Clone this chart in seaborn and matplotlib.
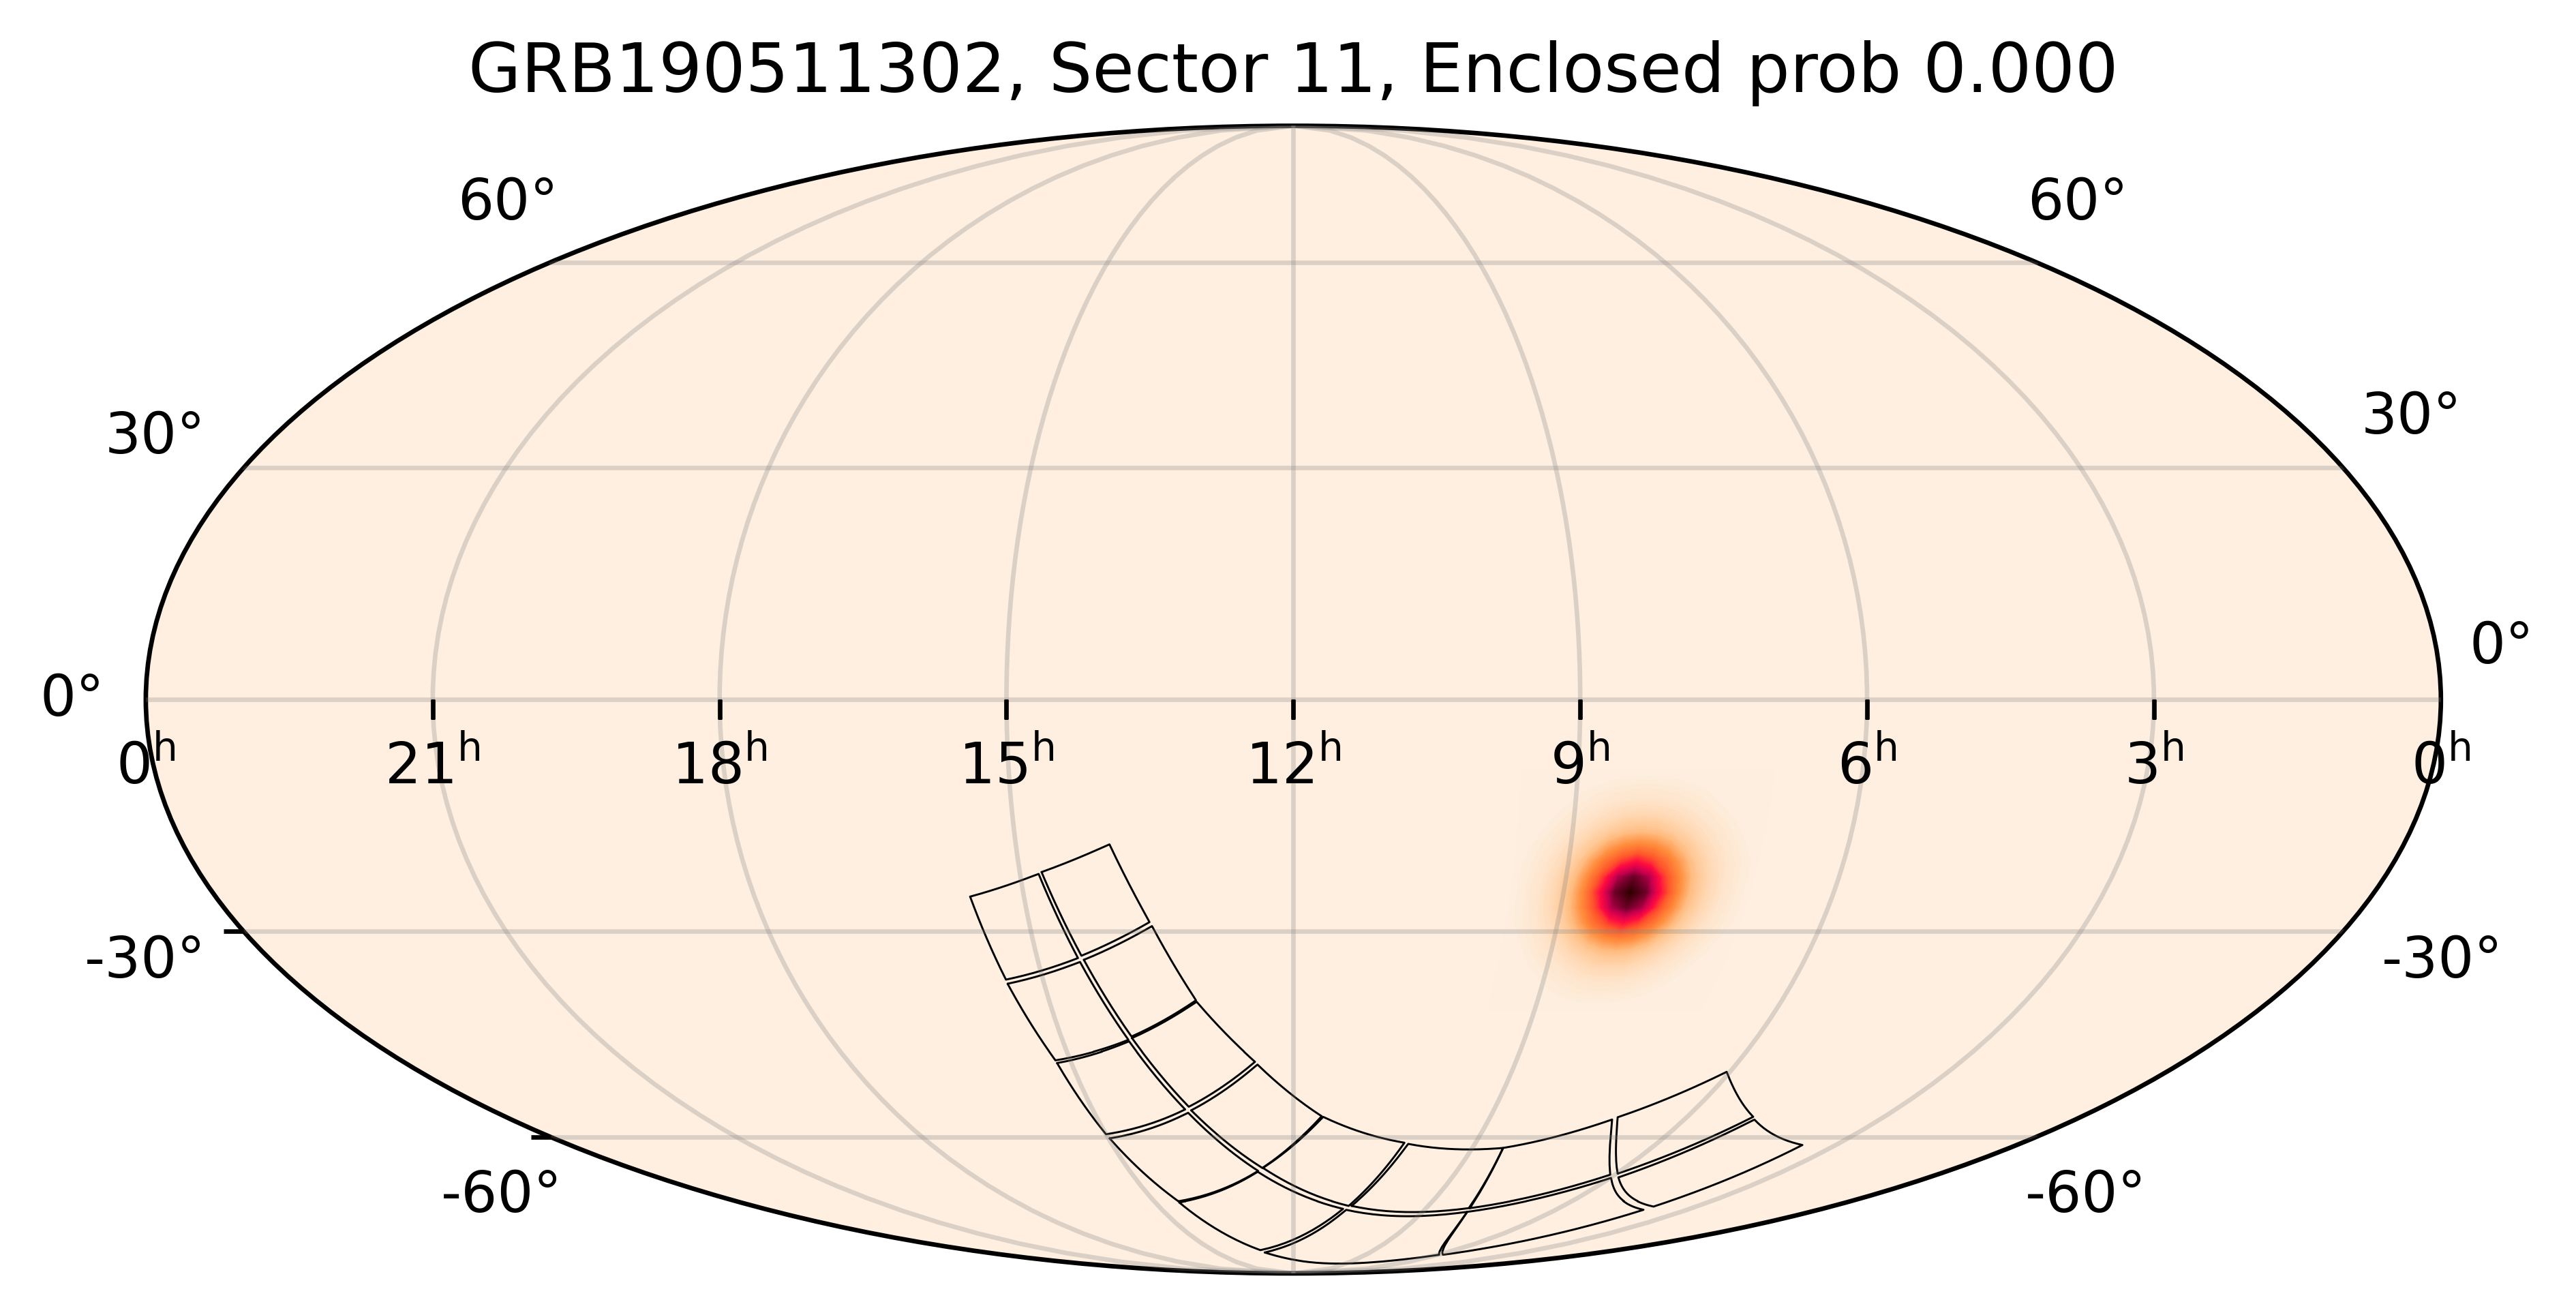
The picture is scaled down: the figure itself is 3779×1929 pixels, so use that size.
import numpy as np
import matplotlib
matplotlib.use("Agg")
import matplotlib.pyplot as plt
import seaborn as sns

sns.set_style("white", {"axes.edgecolor": "black", "text.color": "black", "font.family": ["DejaVu Sans"]})

title = "GRB190511302, Sector 11, Enclosed prob 0.000"

# CCD corners, degrees
ccd_ra = [
    [233.98, 221.94, 217.84, 231.65],
    [221.41, 209.81, 204.46, 217.15],
    [231.59, 217.63, 212.13, 228.00],
    [216.87, 204.13, 197.92, 211.36],
    [227.89, 212.07, 204.25, 225.01],
    [211.34, 197.85, 187.76, 203.28],
    [224.71, 203.79, 189.67, 217.15],
    [202.94, 187.30, 173.53, 188.42],
    [217.15, 189.84, 163.06, 198.36],
    [188.25, 173.19, 152.57, 161.55],
    [196.74, 161.91, 119.47, 89.46],
    [160.57, 151.55, 127.28, 120.59],
    [119.47, 89.78, 59.97, 87.13],
    [120.22, 127.28, 106.63, 91.33],
    [87.91, 73.88, 53.34, 59.37],
    [89.72, 105.82, 90.69, 74.92],
]
ccd_dec = [
    [-25.37, -22.37, -33.61, -36.57],
    [-22.14, -18.52, -28.75, -33.29],
    [-37.14, -34.13, -45.10, -48.08],
    [-33.85, -29.29, -39.45, -44.62],
    [-48.48, -45.31, -55.56, -59.54],
    [-44.84, -39.65, -48.30, -55.14],
    [-60.22, -56.08, -65.77, -71.38],
    [-55.70, -48.70, -56.63, -65.25],
    [-71.59, -65.92, -72.84, -82.02],
    [-65.24, -56.73, -60.94, -72.26],
    [-82.61, -73.03, -73.44, -83.23],
    [-72.26, -61.13, -61.81, -72.70],
    [-73.44, -67.02, -73.03, -83.23],
    [-72.70, -61.81, -57.16, -66.44],
    [-66.93, -57.16, -61.32, -72.39],
    [-66.25, -56.80, -49.79, -56.73],
]

# sky map around the burst, percent of the peak
blob_ra = [143.88, 141.38, 138.88, 136.38, 133.88, 131.38, 128.88, 126.38, 123.88,
           121.38, 118.88, 116.38, 113.88, 111.38, 108.88, 106.38, 103.88]
blob_dec = [-8.8, -10.8, -12.8, -14.8, -16.8, -18.8, -20.8, -22.8, -24.8,
            -26.8, -28.8, -30.8, -32.8, -34.8, -36.8, -38.8, -40.8]
blob_prob = [
    [0, 0, 0, 0, 0, 0, 0, 0, 0, 0, 0, 0, 0, 0, 0, 0, 0],
    [0, 0, 0, 0, 0.5, 1.2, 1.9, 2.3, 2.5, 2.3, 1.9, 1.2, 0.5, 0, 0, 0, 0],
    [0, 0, 0, 0.7, 2, 3.5, 5, 6, 6.5, 6, 5, 3.5, 2, 0.7, 0, 0, 0],
    [0, 0, 0.7, 2.3, 4.7, 7.5, 10.5, 13, 13.5, 13, 10.5, 7.5, 4.7, 2.3, 0.7, 0, 0],
    [0, 0, 2, 4.7, 8.5, 13.5, 18, 22.5, 24, 22.5, 18, 13.5, 8.5, 4.7, 2, 0, 0],
    [0, 1.2, 3.5, 7.5, 13.5, 21, 31, 38, 41, 38, 31, 21, 13.5, 7.5, 3.5, 1.2, 0],
    [0.4, 1.9, 5, 10.5, 18, 31, 44, 55, 62, 55, 44, 31, 18, 10.5, 5, 1.9, 0.4],
    [0.5, 2.3, 6, 13, 22.5, 38, 55, 78, 88, 78, 55, 38, 22.5, 13, 6, 2.3, 0.5],
    [0, 2.5, 6.5, 13.5, 24, 41, 62, 88, 100, 88, 62, 41, 24, 13.5, 6.5, 2.5, 0],
    [0.5, 2.3, 6, 13, 22.5, 38, 55, 78, 88, 78, 55, 38, 22.5, 13, 6, 2.3, 0.5],
    [0.4, 1.9, 5, 10.5, 18, 31, 44, 55, 62, 55, 44, 31, 18, 10.5, 5, 1.9, 0.4],
    [0, 1.2, 3.5, 7.5, 13.5, 21, 31, 38, 41, 38, 31, 21, 13.5, 7.5, 3.5, 1.2, 0],
    [0, 0, 2, 4.7, 8.5, 13.5, 18, 22.5, 24, 22.5, 18, 13.5, 8.5, 4.7, 2, 0, 0],
    [0, 0, 0.7, 2.3, 4.7, 7.5, 10.5, 13, 13.5, 13, 10.5, 7.5, 4.7, 2.3, 0.7, 0, 0],
    [0, 0, 0, 0.7, 2, 3.5, 5, 6, 6.5, 6, 5, 3.5, 2, 0.7, 0, 0, 0],
    [0, 0, 0, 0, 0.5, 1.2, 1.9, 2.3, 2.5, 2.3, 1.9, 1.2, 0.5, 0, 0, 0, 0],
    [0, 0, 0, 0, 0, 0, 0, 0, 0, 0, 0, 0, 0, 0, 0, 0, 0],
]

hours = [0, 21, 18, 15, 12, 9, 6, 3, 0]
hour_ra = [360, 315, 270, 225, 180, 135, 90, 45, 0]
tick_ra = [315, 270, 225, 180, 135, 90, 45]
tick_dec = [-30, -60]
lat_labels = ["60°", "30°", "0°", "-30°", "-60°"]


def sky_x(ra):
    return np.radians(180 - np.asarray(ra, dtype=float))


def outline(ra, dec):
    # ccd edges are great circle arcs on the sky
    lon, lat = np.radians(ra), np.radians(dec)
    v = np.column_stack([np.cos(lat) * np.cos(lon), np.cos(lat) * np.sin(lon), np.sin(lat)])
    t = np.linspace(0, 1, 25)[:, None]
    arcs = [(1 - t) * v[i] + t * v[(i + 1) % 4] for i in range(4)]
    p = np.vstack(arcs)
    p /= np.linalg.norm(p, axis=1, keepdims=True)
    return np.degrees(np.arctan2(p[:, 1], p[:, 0])) % 360, np.degrees(np.arcsin(p[:, 2]))


W, H = 3779, 1929
fig = plt.figure(figsize=((W + 0.1) / 600, (H + 0.1) / 600), dpi=600)
ax = fig.add_axes([213.9 / W, 1 - 1868.0 / H, 3366.8 / W, 1683.4 / H], projection="mollweide")
ax.set_facecolor("#FEEFE0")

stops = ["#FEEFE0", "#FFD9B5", "#FFBC80", "#FF8A3A", "#FF5A2A", "#FF0A40", "#C8004F", "#6E0028", "#300000"]
cmap = sns.blend_palette(stops, n_colors=256, as_cmap=True)

lon, lat = np.meshgrid(sky_x(blob_ra), np.radians(blob_dec))
ax.contourf(lon, lat, np.array(blob_prob) / 100, levels=np.linspace(0, 1, 81), cmap=cmap, vmin=0, vmax=1, zorder=1)

for ra, dec in zip(ccd_ra, ccd_dec):
    edge_ra, edge_dec = outline(ra, dec)
    sns.lineplot(
        x=sky_x(edge_ra),
        y=np.radians(edge_dec),
        sort=False,
        estimator=None,
        color="black",
        linewidth=0.35,
        ax=ax,
    )

ax.set_longitude_grid(45)
ax.set_latitude_grid(30)
ax.set_longitude_grid_ends(90)
ax.grid(True, color="#808080", alpha=0.27, linewidth=0.8)
ax.set_axisbelow(False)
ax.xaxis.set_tick_params(label1On=False)
ax.yaxis.set_tick_params(label1On=False)
ax.set_xlabel("")
ax.set_ylabel("")
ax.set_title(title, fontsize=12, y=1.0, pad=6)

# tick marks only where the original has them
ax.plot(sky_x(tick_ra), np.zeros(len(tick_ra)), ls="none", marker=3, ms=3.5, mew=0.8, color="black", zorder=4)
ax.plot(np.full(len(tick_dec), -np.pi), np.radians(tick_dec), ls="none", marker=0, ms=3.5, mew=0.8,
        color="black", zorder=4, clip_on=False)

for h, ra in zip(hours, hour_ra):
    ax.annotate(rf"${h}^\mathrm{{h}}$", xy=(sky_x(ra), 0), xytext=(0, -14.8), textcoords="offset points",
                ha="center", va="baseline", fontsize=10, annotation_clip=False, zorder=5)

# latitude labels sit at odd places in the original, so they are set by picture position
left_pos = [(745, 322), (228, 665), (106, 1050), (213, 1434), (736, 1778)]
right_pos = [(3048, 322), (3537, 636), (3670, 973), (3583, 1434), (3060, 1778)]
for s, p, q in zip(lat_labels, left_pos, right_pos):
    fig.text(p[0] / W, 1 - p[1] / H, s, ha="center", va="baseline", fontsize=10)
    fig.text(q[0] / W, 1 - q[1] / H, s, ha="center", va="baseline", fontsize=10)

fig.savefig("out.png", dpi=600)
